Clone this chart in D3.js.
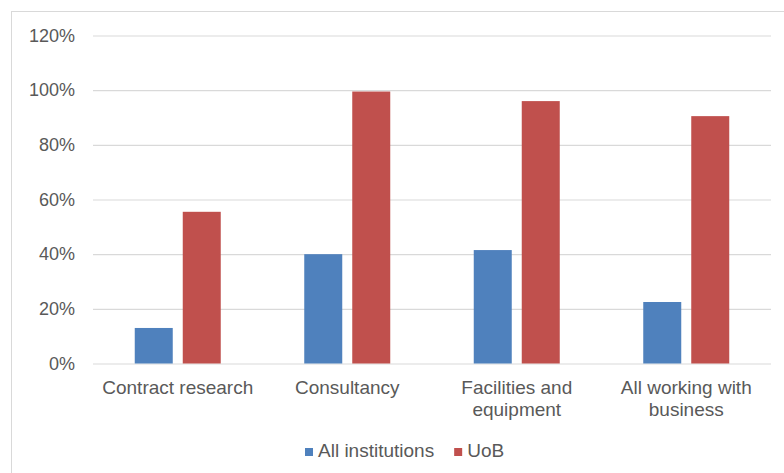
<!DOCTYPE html>
<html>
<head>
<meta charset="utf-8">
<script src="https://cdn.jsdelivr.net/npm/d3@7"></script>
<style>
  html, body { margin: 0; padding: 0; background: #ffffff; }
  svg { display: block; }
  text { font-family: "Liberation Sans", Arial, Helvetica, sans-serif; fill: #595959; }
</style>
</head>
<body>
<svg id="chart" width="784" height="473"></svg>
<script>
// Share of activity by type: all institutions vs UoB
const categories = [
  ["Contract research"],
  ["Consultancy"],
  ["Facilities and", "equipment"],
  ["All working with", "business"]
];
const seriesNames = ["All institutions", "UoB"];
const allInstitutions = [0.13, 0.40, 0.415, 0.225];
const uob = [0.555, 0.995, 0.96, 0.905];
const yTicks = [0, 0.2, 0.4, 0.6, 0.8, 1.0, 1.2];
const colors = ["#4f81bd", "#c0504d"];

const seriesValues = [allInstitutions, uob];
const rows = categories.map((c, i) => ({
  key: c.join(" "),
  lines: c,
  values: seriesNames.map((s, j) => ({ series: s, value: seriesValues[j][i] }))
}));

const svg = d3.select("#chart");

// outer frame
svg.append("rect")
  .attr("x", 11.5).attr("y", 11.5)
  .attr("width", 800).attr("height", 500)
  .attr("fill", "none").attr("stroke", "#d9d9d9").attr("stroke-width", 1);

const plot = { left: 93, right: 771, top: 35.5, bottom: 363.5 };

const y = d3.scaleLinear().domain([0, 1.2]).range([plot.bottom, plot.top]);
const x0 = d3.scaleBand().domain(rows.map(r => r.key)).range([plot.left, plot.right]).paddingInner(0).paddingOuter(0);
const bw = x0.bandwidth();
const x1 = d3.scaleBand().domain(seriesNames)
  .range([bw / 2 - 43, bw / 2 + 43]).paddingInner(0.2083).paddingOuter(0);
const color = d3.scaleOrdinal().domain(seriesNames).range(colors);

// gridlines
const grid = svg.append("g")
  .attr("transform", `translate(${plot.left},0)`)
  .call(d3.axisLeft(y).tickValues(yTicks).tickSize(-(plot.right - plot.left)).tickFormat(""));
grid.select(".domain").remove();
grid.selectAll(".tick line").attr("stroke", "#d9d9d9").attr("stroke-width", 1.2);

// y tick labels
const yAxis = svg.append("g")
  .attr("transform", "translate(75,0)")
  .call(d3.axisLeft(y).tickValues(yTicks).tickSize(0).tickPadding(0).tickFormat(d3.format(".0%")));
yAxis.select(".domain").remove();
yAxis.selectAll("text")
  .style("font-size", "18px")
  .attr("fill", "#595959")
  .style("font-family", '"Liberation Sans", Arial, sans-serif');

// bars
const groups = svg.append("g").selectAll("g")
  .data(rows).join("g")
  .attr("transform", d => `translate(${x0(d.key)},0)`);

groups.selectAll("rect")
  .data(d => d.values).join("rect")
  .attr("x", d => x1(d.series))
  .attr("width", x1.bandwidth())
  .attr("y", d => y(d.value))
  .attr("height", d => y(0) - y(d.value))
  .attr("fill", d => color(d.series));

// category labels
const xAxis = svg.append("g")
  .attr("transform", `translate(0,${plot.bottom})`)
  .call(d3.axisBottom(x0).tickSize(0).tickFormat(""));
xAxis.select(".domain").remove();
xAxis.selectAll(".tick").each(function(key) {
  const row = rows.find(r => r.key === key);
  const t = d3.select(this).append("text")
    .attr("text-anchor", "middle")
    .style("font-size", "19px")
    .attr("fill", "#595959");
  row.lines.forEach((line, i) => {
    t.append("tspan").attr("x", 0).attr("y", 30.5 + i * 21.5).text(line);
  });
});

// legend
const legend = svg.append("g").attr("transform", "translate(305,0)");
let lx = 0;
seriesNames.forEach((s, i) => {
  legend.append("rect")
    .attr("x", lx).attr("y", 448)
    .attr("width", 8).attr("height", 8)
    .attr("fill", color(s));
  const t = legend.append("text")
    .attr("x", lx + 13).attr("y", 457)
    .style("font-size", "19px")
    .text(s);
  lx += 13 + t.node().getComputedTextLength() + 20;
});
</script>
</body>
</html>
